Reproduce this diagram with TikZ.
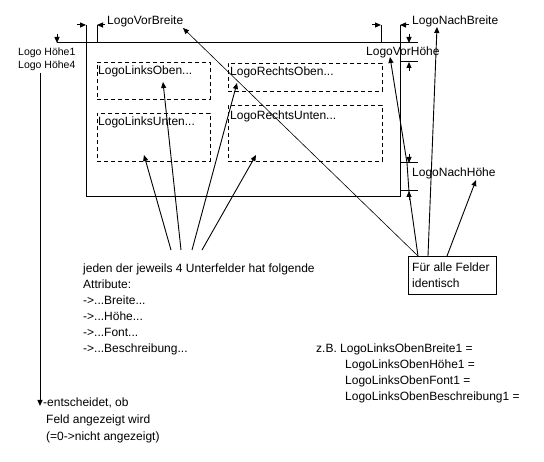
\documentclass[tikz,border=0pt]{standalone}
\usepackage{fontspec}
\setmainfont{Liberation Sans}
\usetikzlibrary{arrows.meta}
\begin{document}
\begin{tikzpicture}[x=1pt,y=-1pt,
  lbl/.style={anchor=base west,inner sep=0pt,font=\fontsize{12}{14}\selectfont},
  slbl/.style={anchor=base west,inner sep=0pt,font=\fontsize{10.5}{13}\selectfont},
  ln/.style={line width=1pt},
  arr/.style={line width=1pt,-{Triangle[length=6pt,width=5pt]}},
  conn/.style={line width=0.9pt,-{Triangle[length=6pt,width=5pt]}},
  thinconn/.style={line width=0.6pt,-{Triangle[length=6pt,width=5pt]}},
  dbox/.style={draw,line width=0.9pt,dash pattern=on 4pt off 3pt,anchor=north west,inner sep=0pt},
  sbox/.style={draw,line width=1pt,anchor=north west,inner sep=0pt},
]
\fill[white] (0,0) rectangle (544,462);
\useasboundingbox (0,0) rectangle (544,462);

% dashed sub-fields
\node[dbox,minimum width=113pt,minimum height=37pt] (lo) at (97,62) {};
\node[dbox,minimum width=113pt,minimum height=48pt] (lu) at (97,113) {};
\node[dbox,minimum width=154pt,minimum height=28pt] (ro) at (228,63) {};
\node[dbox,minimum width=154pt,minimum height=56pt] (ru) at (228,105) {};
\node[lbl] (tlo) at (98,75) {LogoLinksOben...};
\node[lbl] (tlu) at (98,126) {LogoLinksUnten...};
\node[lbl] (tro) at (230,76) {LogoRechtsOben...};
\node[lbl] (tru) at (230,120) {LogoRechtsUnten...};

% labels
\node[lbl] (vb) at (107,25) {LogoVorBreite};
\node[lbl] (nb) at (412,25) {LogoNachBreite};
\node[lbl] (vh) at (366,56) {LogoVorHöhe};
\node[lbl] (nh) at (412,177) {LogoNachHöhe};
\node[slbl] (h1) at (18,56) {Logo Höhe1};
\node[slbl] (h4) at (18,69) {Logo Höhe4};

% main frame
\draw[ln] (57,43) -- (418,43);
\draw[ln] (86,25) -- (86,197) -- (400,197) -- (400,25);
\draw[ln] (97,25) -- (97,43);
\draw[ln] (381,25) -- (381,43);
\draw[ln] (400,62) -- (418,62);
\draw[ln] (400,163) -- (418,163);
\draw[ln] (400,191) -- (418,191);

% dimension arrows
\draw[arr] (77,25) -- (86,25);
\draw[arr] (105,25) -- (97,25);
\draw[arr] (372,25) -- (381,25);
\draw[arr] (409,25) -- (400,25);
\draw[arr] (57,34) -- (57,43);
\draw[arr] (409,34) -- (409,43);
\draw[arr] (409,71) -- (409,62);
\draw[arr] (409,154) -- (409,163);
\draw[arr] (409,200) -- (409,191);

% left visibility arrow
\coordinate (vstart) at (40,73);
\coordinate (vend) at (40,406);
\draw[arr] (vstart) -- (vend);
\node[lbl] (e1) at (43,407) {-entscheidet, ob};
\node[lbl] (e2) at (46,424) {Feld angezeigt wird};
\node[lbl] (e3) at (46,441) {(=0->nicht angezeigt)};

% attribute text
\node[lbl] (a1) at (83,273) {jeden der jeweils 4 Unterfelder hat folgende};
\node[lbl] (a2) at (83,289) {Attribute:};
\node[lbl] (a3) at (83,305) {->...Breite...};
\node[lbl] (a4) at (83,321) {->...Höhe...};
\node[lbl] (a5) at (83,337) {->...Font...};
\node[lbl] (a6) at (83,353) {->...Beschreibung...};

% example text
\node[lbl] (z1) at (316,353) {z.B. LogoLinksObenBreite1 =};
\node[lbl] (z2) at (345,369) {LogoLinksObenHöhe1 =};
\node[lbl] (z3) at (345,385) {LogoLinksObenFont1 =};
\node[lbl] (z4) at (345,401) {LogoLinksObenBeschreibung1 =};

% "Für alle Felder identisch" box
\node[sbox,minimum width=88pt,minimum height=38pt] (fb) at (408,256) {};
\node[lbl] (f1) at (412,272) {Für alle Felder};
\node[lbl] (f2) at (412,288) {identisch};

% connectors from attribute text to sub-fields
\coordinate (s1) at (171,250);
\coordinate (s2) at (181,250);
\coordinate (s3) at (192,250);
\coordinate (s4) at (202,250);
\coordinate (plu) at (144,155);
\coordinate (plo) at (163,82);
\coordinate (pro) at (237,83);
\coordinate (pru) at (256,155);
\draw[conn] (s1) -- (plu);
\draw[conn] (s2) -- (plo);
\draw[conn] (s3) -- (pro);
\draw[conn] (s4) -- (pru);

% connectors from the box
\coordinate (b1) at (418,256);
\coordinate (b2) at (428,256);
\coordinate (b3) at (447,256);
\coordinate (pvb) at (183,28);
\coordinate (pvh) at (390,57);
\coordinate (pnb) at (437,27);
\coordinate (pnh) at (476,180);
\coordinate (k1) at (409,192);
\coordinate (k2) at (407,163);
\draw[thinconn] (b1) -- (pvb);
\draw[conn] (b1) -- (k1) -- (k2) -- (pvh);
\draw[conn] (b2) -- (pnb);
\draw[conn] (b3) -- (pnh);
\end{tikzpicture}
\end{document}
